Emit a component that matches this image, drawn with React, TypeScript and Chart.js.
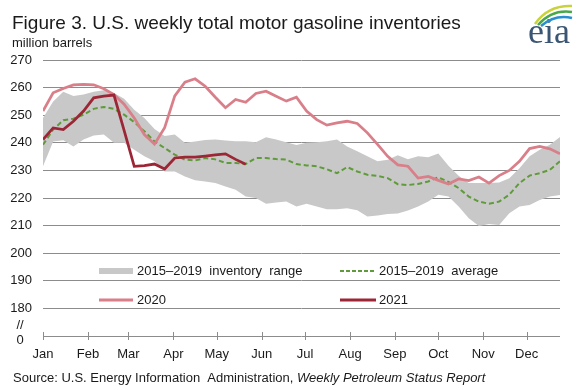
import React, { useEffect, useRef } from 'react';
import { Chart, registerables } from 'chart.js';

Chart.register(...registerables);

// ---- data ----
const monthLabels = ['Jan', 'Feb', 'Mar', 'Apr', 'May', 'Jun', 'Jul', 'Aug', 'Sep', 'Oct', 'Nov', 'Dec'];
// month start positions, in weeks from Jan 1
const monthTickWeeks = [0, 4.43, 8.43, 12.86, 17.14, 21.57, 25.86, 30.29, 34.71, 39, 43.43, 47.71];

const rangeHigh = [
  249, 255, 258.5, 257, 257.5, 258.5, 259, 258, 256, 252, 249, 245, 242.5, 243, 240, 240.5,
  241, 241.2, 240.8, 240.6, 240.6, 240.2, 242, 241.2, 240.2, 239.2, 240, 240.2, 240.6, 241.2,
  238.7, 236.9, 235.1, 233.3, 233.9, 235.5, 234, 235.1, 234.8, 236.1, 231.7, 228.1, 225.4,
  225.4, 225.4, 225.6, 227.2, 230.8, 235.1, 237.5, 239.3, 242.1,
];
const rangeLow = [
  231.5, 240.5, 240.9, 238.7, 241.2, 242.6, 243, 240, 240, 237.5, 235.1, 233.3, 229.6, 229.6,
  227.8, 226.4, 226, 225.4, 224.2, 223, 220.5, 220, 217.9, 218.4, 218.7, 216.9, 217.9, 216.9,
  215.9, 215.9, 216.3, 215.6, 213.3, 213.7, 214.2, 214.4, 215.5, 216.9, 218.7, 221.2, 220.5,
  216.9, 212.7, 209.9, 210.6, 210.2, 214.5, 216.9, 217.5, 219.3, 220.5, 221.1,
];
const avg2015to2019 = [
  239.3, 244.8, 248.2, 248.7, 250.2, 252.3, 253, 252.3, 250.2, 247.5, 244.2, 240.5, 238.1,
  235.7, 233.9, 233.6, 234.5, 234, 232.7, 232.7, 232.3, 234.5, 234.5, 234.1, 233.9, 232.3,
  231.8, 231.5, 230.4, 229, 231.2, 229.6, 228.4, 228, 227.2, 225, 224.7, 225.1, 226, 227.5,
  225.8, 223.6, 220.5, 218.7, 217.9, 218.7, 221.2, 225.4, 228.1, 229, 230.2, 233.3,
];
const y2020 = [
  251.5, 258.1, 259.7, 261, 261.2, 261, 259.6, 257.5, 254, 249, 243, 239.5, 245.5, 257, 262,
  263.2, 260.5, 256.5, 252.7, 255.7, 254.7, 257.9, 258.7, 256.9, 255.1, 256.5, 251.5, 248.4,
  246.4, 247.2, 247.8, 247, 243.6, 239.4, 235.1, 232, 231.5, 227.2, 227.8, 226.4, 225.1,
  226.9, 226.3, 227.6, 225.4, 228.1, 230, 233.3, 237.9, 238.7, 237.8, 236,
];
const y2021 = [
  241.2, 245.4, 244.8, 247.8, 251.5, 256.3, 256.9, 257.3, 244.5, 231.5, 231.7, 232.3, 230.5,
  234.5, 234.8, 234.8, 235.2, 235.6, 236, 234, 232.2,
];

// ---- styles ----
const FONT = '"Liberation Sans", Arial, sans-serif';
const TEXT = '#1a1a1a';
const GRID = '#8c8c8c';
const BAND = '#c8c8c8';
const GREEN = '#5f9b3a';
const PINK = '#d97f89';
const DARKRED = '#9c2636';

const toPts = (arr: number[]) => arr.map((v, i) => ({ x: i, y: v }));

const decor = {
  id: 'decor',
  afterDraw(chart: any) {
    const { ctx, chartArea, scales } = chart;
    const xs = scales.x;
    ctx.save();
    // x tick marks
    ctx.strokeStyle = GRID;
    ctx.lineWidth = 1;
    monthTickWeeks.forEach((w) => {
      const px = Math.round(xs.getPixelForValue(w)) + 0.5;
      ctx.beginPath();
      ctx.moveTo(px, chartArea.bottom - 4);
      ctx.lineTo(px, chartArea.bottom + 4);
      ctx.stroke();
    });

    // axis break and zero label
    ctx.fillStyle = TEXT;
    ctx.font = `13px ${FONT}`;
    ctx.textAlign = 'center';
    ctx.textBaseline = 'middle';
    ctx.fillText('//', 20, 325);
    ctx.fillText('0', 20, 340);

    // legend
    ctx.textAlign = 'left';
    ctx.font = `13px ${FONT}`;
    ctx.fillStyle = BAND;
    ctx.fillRect(99, 268, 34, 6);
    ctx.fillStyle = TEXT;
    ctx.fillText('2015\u20132019  inventory  range', 137, 271);

    ctx.strokeStyle = GREEN;
    ctx.lineWidth = 2;
    ctx.setLineDash([4, 2]);
    ctx.beginPath();
    ctx.moveTo(340, 271);
    ctx.lineTo(376, 271);
    ctx.stroke();
    ctx.setLineDash([]);
    ctx.fillText('2015\u20132019  average', 379, 271);

    ctx.strokeStyle = PINK;
    ctx.lineWidth = 3;
    ctx.beginPath();
    ctx.moveTo(99, 300);
    ctx.lineTo(133, 300);
    ctx.stroke();
    ctx.fillText('2020', 137, 300);

    ctx.strokeStyle = DARKRED;
    ctx.beginPath();
    ctx.moveTo(340, 300);
    ctx.lineTo(376, 300);
    ctx.stroke();
    ctx.fillText('2021', 379, 300);

    // title
    ctx.textBaseline = 'alphabetic';
    ctx.font = `19px ${FONT}`;
    ctx.fillText('Figure 3. U.S. weekly total motor gasoline inventories', 12, 29);
    ctx.font = `13px ${FONT}`;
    ctx.fillText('million barrels', 12, 47);

    // source
    ctx.textBaseline = 'middle';
    ctx.font = `13px ${FONT}`;
    const src = 'Source: U.S. Energy Information  Administration, ';
    ctx.fillText(src, 13, 378);
    const w = ctx.measureText(src).width;
    ctx.font = `italic 13px ${FONT}`;
    ctx.fillText('Weekly Petroleum Status Report', 13 + w, 378);

    // eia logo
    ctx.textBaseline = 'alphabetic';
    ctx.font = `36px "Liberation Serif", "DejaVu Serif", serif`;
    ctx.fillStyle = '#3a5674';
    ctx.fillText('eia', 528, 43);
    const arcs: [string, number, number, number, number, number, number][] = [
      ['#c9d23a', 535, 24, 548, 5, 572, 6],
      ['#4aa84a', 538, 25, 552, 9, 572, 12],
      ['#2a8fd0', 541, 26, 555, 14, 572, 18],
    ];
    arcs.forEach(([c, x0, y0, cx, cy, x1, y1]) => {
      ctx.strokeStyle = c;
      ctx.lineWidth = 2.5;
      ctx.beginPath();
      ctx.moveTo(x0, y0);
      ctx.quadraticCurveTo(cx, cy, x1, y1);
      ctx.stroke();
    });
    ctx.restore();
  },
};

export default function App() {
  const ref = useRef<HTMLCanvasElement | null>(null);
  useEffect(() => {
    if (!ref.current) return;
    const chart = new Chart(ref.current, {
      type: 'line',
      data: {
        datasets: [
          {
            label: 'high',
            data: toPts(rangeHigh),
            borderColor: 'rgba(0,0,0,0)',
            borderWidth: 1,
            backgroundColor: BAND,
            pointRadius: 0,
            fill: '+1',
            order: 4,
          },
          {
            label: 'low',
            data: toPts(rangeLow),
            borderColor: 'rgba(0,0,0,0)',
            borderWidth: 1,
            pointRadius: 0,
            fill: false,
            order: 3,
          },
          {
            label: '2015–2019 average',
            data: toPts(avg2015to2019),
            borderColor: GREEN,
            borderWidth: 2,
            borderDash: [5, 3],
            pointRadius: 0,
            fill: false,
            order: 2,
          },
          {
            label: '2020',
            data: toPts(y2020),
            borderColor: PINK,
            borderWidth: 2.75,
            pointRadius: 0,
            fill: false,
            order: 1,
          },
          {
            label: '2021',
            data: toPts(y2021),
            borderColor: DARKRED,
            borderWidth: 2.75,
            pointRadius: 0,
            fill: false,
            order: 0,
          },
        ],
      },
      options: {
        responsive: false,
        animation: false,
        devicePixelRatio: 1,
        layout: { padding: { left: 0, right: 20, top: 60, bottom: 0 } },
        plugins: {
          legend: { display: false },
          title: { display: false },
          tooltip: { enabled: false },
        },
        scales: {
          x: {
            type: 'linear',
            min: 0,
            max: 51,
            grid: { display: false },
            border: { display: false },
            afterBuildTicks: (s: any) => {
              s.ticks = monthTickWeeks.map((v) => ({ value: v }));
            },
            afterFit: (s: any) => {
              s.height = 54;
            },
            ticks: {
              autoSkip: false,
              maxRotation: 0,
              padding: 3,
              color: TEXT,
              font: { family: FONT, size: 13 },
              callback: (_v: any, i: number) => monthLabels[i],
            },
          },
          y: {
            min: 170,
            max: 270,
            grid: { color: GRID, lineWidth: 1, drawTicks: false },
            border: { display: false },
            afterFit: (s: any) => {
              s.width = 43;
            },
            ticks: {
              stepSize: 10,
              padding: 11,
              color: TEXT,
              font: { family: FONT, size: 13 },
              callback: (v: any) => (v === 170 ? '' : String(v)),
            },
          },
        },
      },
      plugins: [decor],
    });
    return () => chart.destroy();
  }, []);
  return (
    <div style={{ position: 'absolute', left: 0, top: 0, width: 580, height: 390, background: '#fff' }}>
      <canvas ref={ref} width={580} height={390} />
    </div>
  );
}
